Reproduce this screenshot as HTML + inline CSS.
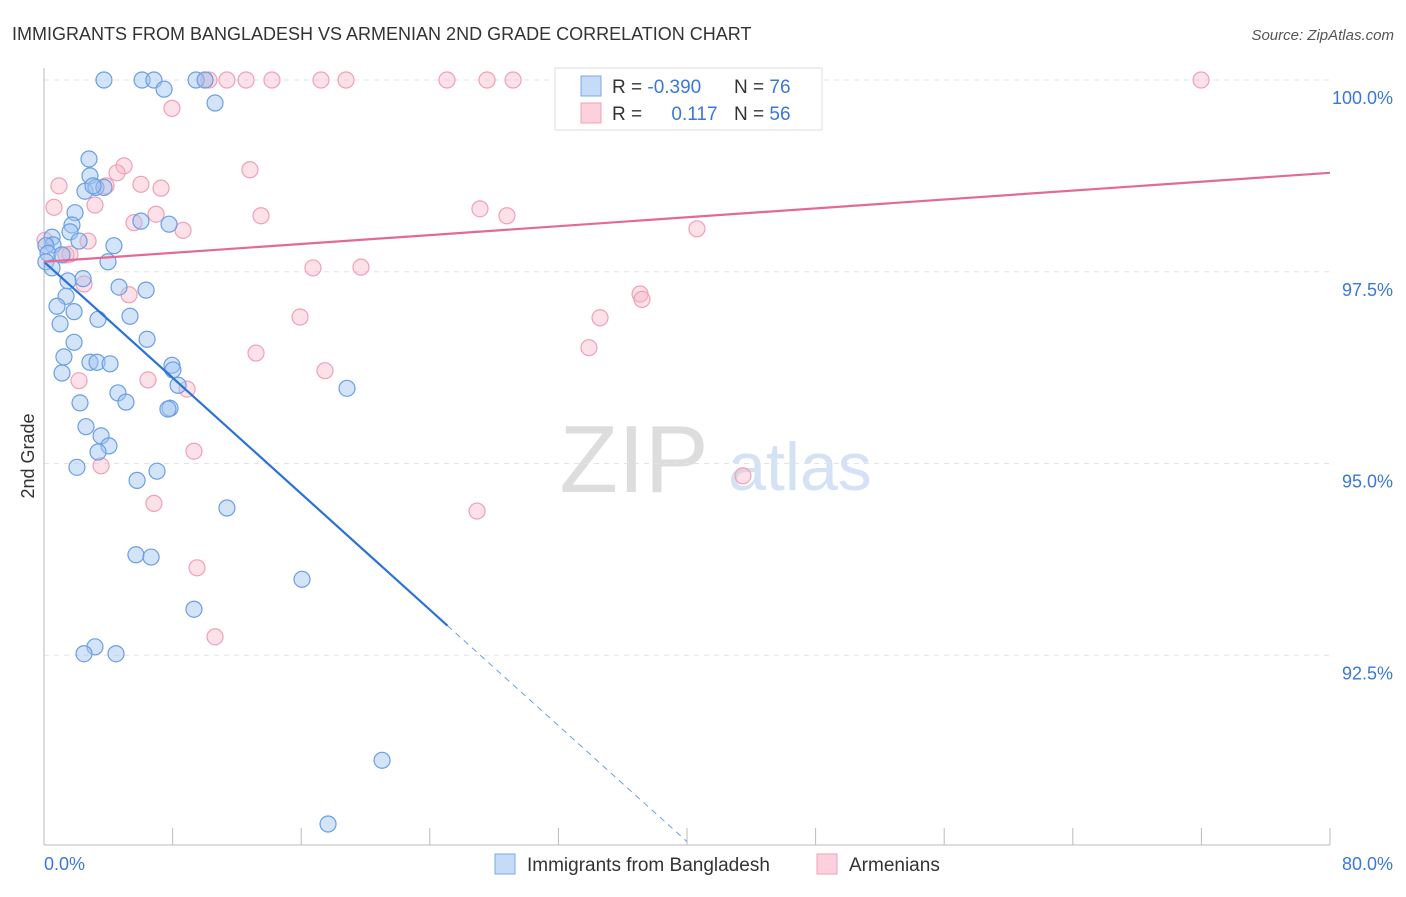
<!DOCTYPE html>
<html><head><meta charset="utf-8"><style>
body{margin:0;background:#fff;font-family:"Liberation Sans",sans-serif}
svg text{font-family:"Liberation Sans",sans-serif}
</style></head><body>
<svg id="c" width="1406" height="892" xmlns="http://www.w3.org/2000/svg">
<text x="12" y="40" font-size="18" fill="#333">IMMIGRANTS FROM BANGLADESH VS ARMENIAN 2ND GRADE CORRELATION CHART</text>
<text x="1394" y="40" font-size="15" fill="#555" font-style="italic" text-anchor="end">Source: ZipAtlas.com</text>
<text x="34" y="456" font-size="18" fill="#333" text-anchor="middle" transform="rotate(-90 34 456)">2nd Grade</text>
<g><text x="634" y="492" font-size="96" fill="#ddd" text-anchor="middle" font-family="Liberation Serif">ZIP</text><text x="800" y="490" font-size="68" fill="#d4e2f5" text-anchor="middle">atlas</text></g>
<g id="grid"></g><g id="axes"></g><g id="pts"></g><g id="lines"></g>
<g>
<rect x="555" y="68" width="267" height="62" fill="#fff" stroke="#ddd"/>
<rect x="581" y="76" width="20" height="20" fill="#c5dbf7" stroke="#7aa8e8"/>
<rect x="581" y="103" width="20" height="20" fill="#fcd0dc" stroke="#f0a0b8"/>
<text x="612" y="93" font-size="19" fill="#333">R = <tspan fill="#3a78d8">-0.390</tspan></text>
<text x="734" y="93" font-size="19" fill="#333">N = <tspan fill="#3a78d8">76</tspan></text>
<text x="612" y="120" font-size="19" fill="#333">R = <tspan fill="#3a78d8" dx="24">0.117</tspan></text>
<text x="734" y="120" font-size="19" fill="#333">N = <tspan fill="#3a78d8">56</tspan></text>
</g>
<g>
<rect x="495" y="854" width="20" height="20" fill="#c5dbf7" stroke="#7aa8e8"/>
<text x="527" y="871" font-size="19" fill="#333">Immigrants from Bangladesh</text>
<rect x="817" y="854" width="20" height="20" fill="#fcd0dc" stroke="#f0a0b8"/>
<text x="849" y="871" font-size="19" fill="#333">Armenians</text>
</g>
</svg>
<script>
const blueX=[3.73,6.10,6.84,9.46,10.02,7.47,10.64,2.80,2.86,2.55,3.23,3.73,3.05,1.93,1.74,1.62,6.03,7.78,0.50,0.56,4.35,2.18,0.12,0.25,1.12,0.12,3.98,0.50,2.43,1.49,1.37,4.67,6.35,0.81,1.87,3.36,5.35,1.00,1.87,6.41,1.24,1.12,2.86,3.30,4.11,7.96,8.02,8.34,18.85,4.60,5.10,2.24,7.84,7.71,2.61,3.55,4.04,3.36,2.05,7.03,5.79,11.38,5.72,6.66,16.05,9.33,3.17,2.49,4.48,21.03,17.67];
const blueY=[100,100,100,100,100,99.88,99.70,98.97,98.75,98.55,98.60,98.60,98.62,98.27,98.11,98.02,98.16,98.12,97.95,97.85,97.84,97.90,97.84,97.74,97.72,97.63,97.63,97.55,97.41,97.38,97.18,97.30,97.26,97.05,96.98,96.88,96.92,96.82,96.58,96.62,96.39,96.18,96.32,96.32,96.30,96.28,96.22,96.02,95.98,95.92,95.80,95.79,95.72,95.71,95.48,95.36,95.23,95.15,94.95,94.90,94.78,94.42,93.81,93.78,93.49,93.10,92.61,92.52,92.52,91.13,90.30];
const pinkX=[0.06,0.62,0.93,3.17,3.86,4.98,4.54,6.03,7.28,6.97,5.60,8.65,12.81,13.50,7.96,2.74,1.37,1.62,2.49,5.29,16.73,19.72,15.93,13.19,17.48,6.47,8.90,2.18,3.55,9.33,6.84,9.52,10.64,27.12,28.80,40.62,37.08,37.20,34.59,33.90,26.94,43.48,32.91,71.98,10.02,10.26,11.38,12.57,14.18,17.23,18.79,25.07,27.56,29.18];
const pinkY=[97.91,98.34,98.62,98.37,98.62,98.88,98.79,98.64,98.59,98.25,98.14,98.04,98.83,98.23,99.63,97.90,97.72,97.73,97.34,97.20,97.55,97.56,96.91,96.44,96.21,96.09,95.97,96.08,94.97,95.16,94.48,93.64,92.74,98.32,98.23,98.06,97.21,97.14,96.90,96.51,94.38,94.84,100,100,100,100,100,100,100,100,100,100,100,100];
const yTicks=[100,97.5,95,92.5];
const yTickLabels=["100.0%","97.5%","95.0%","92.5%"];
const blueTrend=[97.63,90.07];const blueTrendX=[0,40];const blueSolidEnd=25.1;
const pinkTrend=[97.63,98.79];const pinkTrendX=[0,80];
const NS="http://www.w3.org/2000/svg";
const sx=v=>44+v*16.075, sy=v=>80+(100-v)*76.7;
function mk(p,t,a){const e=document.createElementNS(NS,t);for(const k in a)e.setAttribute(k,a[k]);document.getElementById(p).appendChild(e);return e;}
yTicks.forEach((t,i)=>{
 const g=mk('grid','line',{x1:44,x2:1330,y1:sy(t),y2:sy(t),stroke:'#e3e3e3','stroke-dasharray':'5,5'});
 
 
 const l=mk('axes','text',{x:1393,y:sy(t)+24,'font-size':18,fill:'#3a78d8','text-anchor':'end'});l.textContent=yTickLabels[i];
 
 
});
mk('axes','line',{x1:44,x2:44,y1:68,y2:845,stroke:'#bbb'});
mk('axes','line',{x1:44,x2:1330,y1:845,y2:845,stroke:'#bbb'});
for(let i=0;i<=10;i++){const t=mk('axes','line',{x1:sx(i*8),x2:sx(i*8),y1:828,y2:845,stroke:'#bbb'});
 
 }
const x0=mk('axes','text',{x:44,y:870,'font-size':18,fill:'#3a78d8'});x0.textContent='0.0%';


const x1=mk('axes','text',{x:1393,y:870,'font-size':18,fill:'#3a78d8','text-anchor':'end'});x1.textContent='80.0%';


pinkX.forEach((x,i)=>{const c=mk('pts','circle',{cx:sx(x),cy:sy(pinkY[i]),r:8,fill:'rgba(248,180,200,0.4)',stroke:'#f0a0b8','stroke-width':1.2});
 
 });
blueX.forEach((x,i)=>{const c=mk('pts','circle',{cx:sx(x),cy:sy(blueY[i]),r:8,fill:'rgba(160,195,240,0.45)',stroke:'#6a9ee6','stroke-width':1.2});
 
 });
const by=x=>blueTrend[0]+(blueTrend[1]-blueTrend[0])*(x-blueTrendX[0])/(blueTrendX[1]-blueTrendX[0]);
const b1=mk('lines','line',{x1:sx(blueTrendX[0]),y1:sy(blueTrend[0]),x2:sx(blueSolidEnd),y2:sy(by(blueSolidEnd)),stroke:'#2a72d8','stroke-width':2.2});


const b2=mk('lines','line',{x1:sx(blueSolidEnd),y1:sy(by(blueSolidEnd)),x2:sx(blueTrendX[1]),y2:sy(blueTrend[1]),stroke:'#6a9ee6','stroke-width':1,'stroke-dasharray':'6,5'});


const p1=mk('lines','line',{x1:sx(pinkTrendX[0]),y1:sy(pinkTrend[0]),x2:sx(pinkTrendX[1]),y2:sy(pinkTrend[1]),stroke:'#e46a94','stroke-width':2.2});


</script>
</body></html>
